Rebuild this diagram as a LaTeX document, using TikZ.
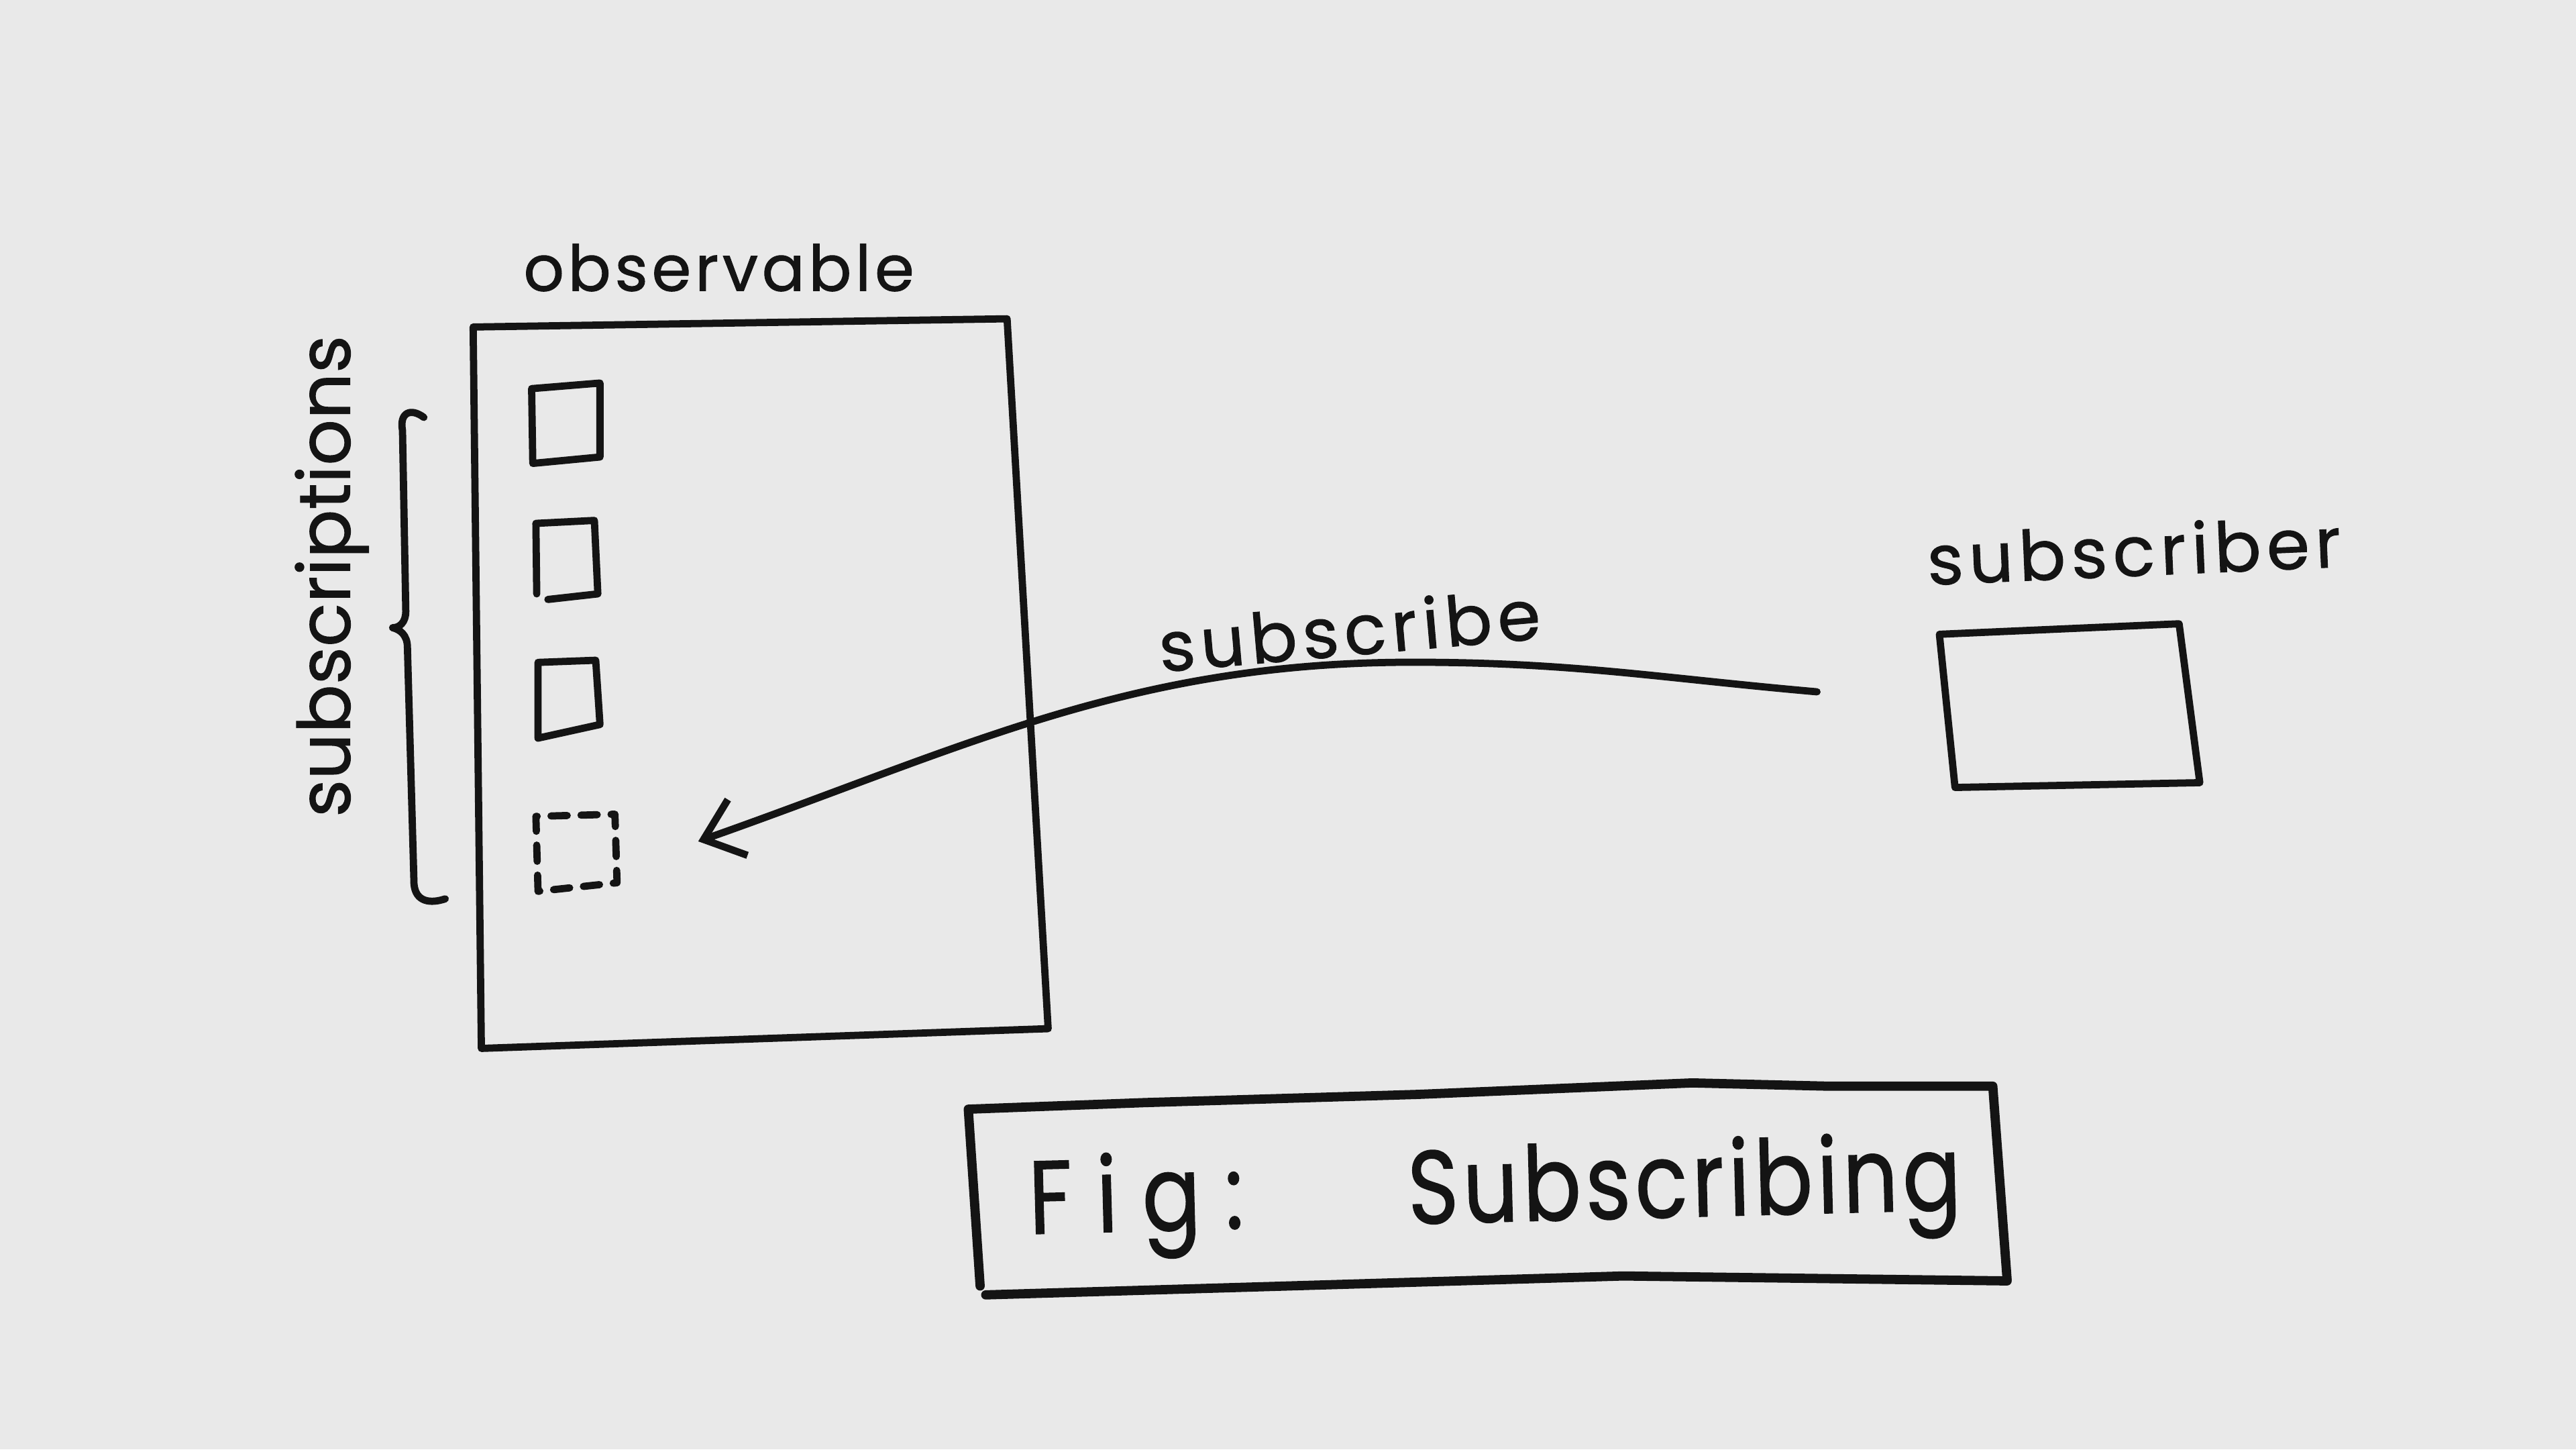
\documentclass[tikz,border=0pt]{standalone}
\usepackage{fontspec}
\setmainfont{Poppins}
\newfontfamily\hand[FakeBold=1]{Poppins}
\usetikzlibrary{arrows.meta}
\definecolor{paper}{RGB}{233,233,233}
\definecolor{ink}{RGB}{20,20,20}
\begin{document}
\begin{tikzpicture}[x=0.1mm,y=-0.1mm,
  pen/.style={draw=ink,line width=1.25pt,line cap=round,line join=round},
  heavypen/.style={pen,line width=1.6pt},
  dashsq/.style={pen,dash pattern=on 2.8pt off 2.4pt},
  arr/.style={pen,-{Straight Barb[length=2.2mm,width=3.6mm]}},
  lbl/.style={text=ink,inner sep=0pt,anchor=base west}]
\fill[paper] (0,0) rectangle (1568,882);
\useasboundingbox (0,0) rectangle (1568,882);

% observable
\draw[pen] (288,199) -- (613,194) -- (638,626) -- (293,638) -- cycle;
\node[lbl,font=\hand\fontsize{11}{13}\selectfont\addfontfeature{LetterSpace=6}] (obslbl) at (318,177) {observable};

% subscriptions
\draw[pen] (324.3,282.0) -- (323.6,236.5) -- (365.2,233.1) -- (365.2,278.1) -- cycle;
\draw[pen] (326.7,361.4) -- (326.2,318.5) -- (361.8,316.7) -- (363.9,361.4) -- (333.5,364.8);
\draw[pen] (327.5,449.2) -- (327.5,403.1) -- (362.6,401.8) -- (365.2,440.9) -- cycle;
\draw[dashsq] (327.5,542.4) -- (326.2,496.8) -- (374.3,495.5) -- (375.6,537.2) -- cycle;

% brace
\draw[pen] (258,254) .. controls (250,248) and (243,251) .. (245,262)
  -- (247,372) .. controls (247,379) and (243,382) .. (239,382)
  .. controls (243,383) and (248,386) .. (248,394)
  -- (252,538) .. controls (253,549) and (262,550) .. (271,547);
\node[lbl,font=\hand\fontsize{12.5}{15}\selectfont,rotate=90] (sublbl) at (213,498) {subscriptions};

% subscriber
\draw[pen] (1180.5,386) -- (1326.4,379.6) -- (1339,476.3) -- (1190,479.2) -- cycle;
\node[lbl,font=\hand\fontsize{12}{14}\selectfont\addfontfeature{LetterSpace=8},rotate=2.5] (subrlbl) at (1173,356) {subscriber};

% subscribe arrow
\coordinate (arrstart) at (1106,421);
\coordinate (peak) at (860,403);
\coordinate (arrend) at (425,512);
\draw[arr] (arrstart) .. controls (1009,412.5) and (957,403) .. (peak)
  .. controls (688,403) and (587,455) .. (arrend);
\node[lbl,font=\hand\fontsize{12}{14}\selectfont\addfontfeature{LetterSpace=8},rotate=5] (arrlbl) at (706,409) {subscribe};

% caption
\draw[heavypen] (596.6,782.6) -- (589.4,675) -- (696.6,671) -- (863,666) -- (1030,659) -- (1113,661) -- (1213,661) -- (1221.7,778.6);
\draw[heavypen] (600,788) -- (780,782.7) -- (988,776.5) -- (1221.7,779.5);
\node[lbl,font=\hand\fontsize{15}{18}\selectfont,rotate=1.5,yscale=1.2] (caption) at (626,751)
  {{\addfontfeature{LetterSpace=28}Fig:}\hspace{1.9em}{\addfontfeature{LetterSpace=5}Subscribing}};
\end{tikzpicture}
\end{document}
